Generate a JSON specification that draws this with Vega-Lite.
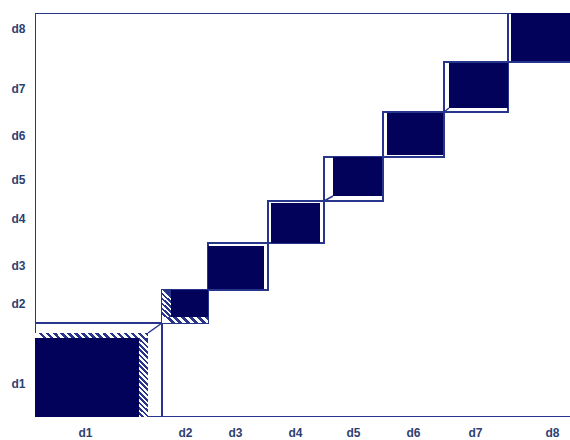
{
  "$schema": "https://vega.github.io/schema/vega-lite/v6.json",
  "autosize": "none",
  "width": 535,
  "height": 404,
  "padding": {"left": 35, "top": 13, "right": 0, "bottom": 23},
  "background": "white",
  "config": {
    "view": {"stroke": null},
    "axis": {"title": null, "domain": false, "ticks": false, "grid": false, "labelFont": "Liberation Sans", "labelFontSize": 12, "labelFontWeight": "bold", "labelColor": "#2e3f72"}
  },
  "datasets": {
    "frame": [{"x": 0, "x2": 540, "y": 0, "y2": 404}],
    "outline": [
      {"cat": "d1", "x": 0, "x2": 127, "y": 0, "y2": 94},
      {"cat": "d2", "x": 127, "x2": 173, "y": 94, "y2": 127},
      {"cat": "d3", "x": 173, "x2": 233, "y": 127, "y2": 174},
      {"cat": "d4", "x": 233, "x2": 289, "y": 174, "y2": 216},
      {"cat": "d5", "x": 289, "x2": 348, "y": 216, "y2": 260},
      {"cat": "d6", "x": 348, "x2": 409, "y": 260, "y2": 305},
      {"cat": "d7", "x": 409, "x2": 473, "y": 305, "y2": 355},
      {"cat": "d8", "x": 473, "x2": 540, "y": 355, "y2": 404}
    ],
    "agree": [
      {"cat": "d1", "x": 0, "x2": 104, "y": 0, "y2": 79},
      {"cat": "d2", "x": 136, "x2": 173, "y": 100, "y2": 127},
      {"cat": "d3", "x": 173, "x2": 229, "y": 128, "y2": 171},
      {"cat": "d4", "x": 236, "x2": 285, "y": 174, "y2": 214},
      {"cat": "d5", "x": 298, "x2": 347, "y": 221, "y2": 260},
      {"cat": "d6", "x": 352, "x2": 408, "y": 262, "y2": 304},
      {"cat": "d7", "x": 414, "x2": 473, "y": 309, "y2": 354},
      {"cat": "d8", "x": 476, "x2": 540, "y": 356, "y2": 404}
    ],
    "partial": [
      {"part": "h1r", "x": 104, "x2": 113, "y": 0, "y2": 84},
      {"part": "h1t", "x": 0, "x2": 113, "y": 79, "y2": 84},
      {"part": "h2l", "x": 127, "x2": 136, "y": 100, "y2": 127},
      {"part": "h2b", "x": 127, "x2": 173, "y": 94, "y2": 100}
    ],
    "links": [
      {"cat": "d1", "x": 113, "x2": 127, "y": 84, "y2": 94},
      {"cat": "d5", "x": 289, "x2": 298, "y": 216, "y2": 221},
      {"cat": "d7", "x": 409, "x2": 414, "y": 305, "y2": 309}
    ]
  },
  "encoding": {
    "x": {"field": "x", "type": "quantitative", "scale": {"domain": [0, 535], "nice": false, "zero": false},
      "axis": {"values": [50, 150, 200, 260, 318, 378, 440, 517], "labelPadding": 10,
        "labelExpr": "datum.value < 100 ? 'd1' : datum.value < 175 ? 'd2' : datum.value < 230 ? 'd3' : datum.value < 290 ? 'd4' : datum.value < 350 ? 'd5' : datum.value < 410 ? 'd6' : datum.value < 480 ? 'd7' : 'd8'"}},
    "x2": {"field": "x2"},
    "y": {"field": "y", "type": "quantitative", "scale": {"domain": [0, 404], "nice": false, "zero": false},
      "axis": {"values": [389, 329, 282, 238, 199, 152, 114, 34], "labelPadding": 10,
        "labelExpr": "datum.value < 80 ? 'd1' : datum.value < 135 ? 'd2' : datum.value < 180 ? 'd3' : datum.value < 220 ? 'd4' : datum.value < 260 ? 'd5' : datum.value < 310 ? 'd6' : datum.value < 360 ? 'd7' : 'd8'"}},
    "y2": {"field": "y2"}
  },
  "layer": [
    {"data": {"name": "frame"}, "mark": {"type": "rect", "fill": "white", "stroke": "#27358c", "strokeWidth": 2, "clip": true}},
    {"data": {"name": "outline"}, "mark": {"type": "rect", "fill": "white", "stroke": "#27358c", "strokeWidth": 2, "clip": true}},
    {"data": {"name": "agree"}, "mark": {"type": "rect", "fill": "#02025a", "stroke": null, "clip": true}},
    {"data": {"name": "partial"}, "transform": [{"filter": "datum.part == 'h1r'"}],
      "mark": {"type": "rect", "stroke": null, "fill": {"gradient": "linear", "x1": 0.106, "y1": 0, "x2": 0, "y2": 1, "stops": [
        {"offset": 0, "color": "#27358c"}, {"offset": 0.03125, "color": "#27358c"}, {"offset": 0.03125, "color": "#ffffff"}, {"offset": 0.0625, "color": "#ffffff"},
        {"offset": 0.0625, "color": "#27358c"}, {"offset": 0.09375, "color": "#27358c"}, {"offset": 0.09375, "color": "#ffffff"}, {"offset": 0.125, "color": "#ffffff"},
        {"offset": 0.125, "color": "#27358c"}, {"offset": 0.15625, "color": "#27358c"}, {"offset": 0.15625, "color": "#ffffff"}, {"offset": 0.1875, "color": "#ffffff"},
        {"offset": 0.1875, "color": "#27358c"}, {"offset": 0.21875, "color": "#27358c"}, {"offset": 0.21875, "color": "#ffffff"}, {"offset": 0.25, "color": "#ffffff"},
        {"offset": 0.25, "color": "#27358c"}, {"offset": 0.28125, "color": "#27358c"}, {"offset": 0.28125, "color": "#ffffff"}, {"offset": 0.3125, "color": "#ffffff"},
        {"offset": 0.3125, "color": "#27358c"}, {"offset": 0.34375, "color": "#27358c"}, {"offset": 0.34375, "color": "#ffffff"}, {"offset": 0.375, "color": "#ffffff"},
        {"offset": 0.375, "color": "#27358c"}, {"offset": 0.40625, "color": "#27358c"}, {"offset": 0.40625, "color": "#ffffff"}, {"offset": 0.4375, "color": "#ffffff"},
        {"offset": 0.4375, "color": "#27358c"}, {"offset": 0.46875, "color": "#27358c"}, {"offset": 0.46875, "color": "#ffffff"}, {"offset": 0.5, "color": "#ffffff"},
        {"offset": 0.5, "color": "#27358c"}, {"offset": 0.53125, "color": "#27358c"}, {"offset": 0.53125, "color": "#ffffff"}, {"offset": 0.5625, "color": "#ffffff"},
        {"offset": 0.5625, "color": "#27358c"}, {"offset": 0.59375, "color": "#27358c"}, {"offset": 0.59375, "color": "#ffffff"}, {"offset": 0.625, "color": "#ffffff"},
        {"offset": 0.625, "color": "#27358c"}, {"offset": 0.65625, "color": "#27358c"}, {"offset": 0.65625, "color": "#ffffff"}, {"offset": 0.6875, "color": "#ffffff"},
        {"offset": 0.6875, "color": "#27358c"}, {"offset": 0.71875, "color": "#27358c"}, {"offset": 0.71875, "color": "#ffffff"}, {"offset": 0.75, "color": "#ffffff"},
        {"offset": 0.75, "color": "#27358c"}, {"offset": 0.78125, "color": "#27358c"}, {"offset": 0.78125, "color": "#ffffff"}, {"offset": 0.8125, "color": "#ffffff"},
        {"offset": 0.8125, "color": "#27358c"}, {"offset": 0.84375, "color": "#27358c"}, {"offset": 0.84375, "color": "#ffffff"}, {"offset": 0.875, "color": "#ffffff"},
        {"offset": 0.875, "color": "#27358c"}, {"offset": 0.90625, "color": "#27358c"}, {"offset": 0.90625, "color": "#ffffff"}, {"offset": 0.9375, "color": "#ffffff"},
        {"offset": 0.9375, "color": "#27358c"}, {"offset": 0.96875, "color": "#27358c"}, {"offset": 0.96875, "color": "#ffffff"}, {"offset": 1, "color": "#ffffff"}
      ]}}},
    {"data": {"name": "partial"}, "transform": [{"filter": "datum.part == 'h1t'"}],
      "mark": {"type": "rect", "stroke": null, "fill": {"gradient": "linear", "x1": 1, "y1": 0, "x2": 0, "y2": 0.044, "stops": [
        {"offset": 0, "color": "#27358c"}, {"offset": 0.03125, "color": "#27358c"}, {"offset": 0.03125, "color": "#ffffff"}, {"offset": 0.0625, "color": "#ffffff"},
        {"offset": 0.0625, "color": "#27358c"}, {"offset": 0.09375, "color": "#27358c"}, {"offset": 0.09375, "color": "#ffffff"}, {"offset": 0.125, "color": "#ffffff"},
        {"offset": 0.125, "color": "#27358c"}, {"offset": 0.15625, "color": "#27358c"}, {"offset": 0.15625, "color": "#ffffff"}, {"offset": 0.1875, "color": "#ffffff"},
        {"offset": 0.1875, "color": "#27358c"}, {"offset": 0.21875, "color": "#27358c"}, {"offset": 0.21875, "color": "#ffffff"}, {"offset": 0.25, "color": "#ffffff"},
        {"offset": 0.25, "color": "#27358c"}, {"offset": 0.28125, "color": "#27358c"}, {"offset": 0.28125, "color": "#ffffff"}, {"offset": 0.3125, "color": "#ffffff"},
        {"offset": 0.3125, "color": "#27358c"}, {"offset": 0.34375, "color": "#27358c"}, {"offset": 0.34375, "color": "#ffffff"}, {"offset": 0.375, "color": "#ffffff"},
        {"offset": 0.375, "color": "#27358c"}, {"offset": 0.40625, "color": "#27358c"}, {"offset": 0.40625, "color": "#ffffff"}, {"offset": 0.4375, "color": "#ffffff"},
        {"offset": 0.4375, "color": "#27358c"}, {"offset": 0.46875, "color": "#27358c"}, {"offset": 0.46875, "color": "#ffffff"}, {"offset": 0.5, "color": "#ffffff"},
        {"offset": 0.5, "color": "#27358c"}, {"offset": 0.53125, "color": "#27358c"}, {"offset": 0.53125, "color": "#ffffff"}, {"offset": 0.5625, "color": "#ffffff"},
        {"offset": 0.5625, "color": "#27358c"}, {"offset": 0.59375, "color": "#27358c"}, {"offset": 0.59375, "color": "#ffffff"}, {"offset": 0.625, "color": "#ffffff"},
        {"offset": 0.625, "color": "#27358c"}, {"offset": 0.65625, "color": "#27358c"}, {"offset": 0.65625, "color": "#ffffff"}, {"offset": 0.6875, "color": "#ffffff"},
        {"offset": 0.6875, "color": "#27358c"}, {"offset": 0.71875, "color": "#27358c"}, {"offset": 0.71875, "color": "#ffffff"}, {"offset": 0.75, "color": "#ffffff"},
        {"offset": 0.75, "color": "#27358c"}, {"offset": 0.78125, "color": "#27358c"}, {"offset": 0.78125, "color": "#ffffff"}, {"offset": 0.8125, "color": "#ffffff"},
        {"offset": 0.8125, "color": "#27358c"}, {"offset": 0.84375, "color": "#27358c"}, {"offset": 0.84375, "color": "#ffffff"}, {"offset": 0.875, "color": "#ffffff"},
        {"offset": 0.875, "color": "#27358c"}, {"offset": 0.90625, "color": "#27358c"}, {"offset": 0.90625, "color": "#ffffff"}, {"offset": 0.9375, "color": "#ffffff"},
        {"offset": 0.9375, "color": "#27358c"}, {"offset": 0.96875, "color": "#27358c"}, {"offset": 0.96875, "color": "#ffffff"}, {"offset": 1, "color": "#ffffff"}
      ]}}},
    {"data": {"name": "partial"}, "transform": [{"filter": "datum.part == 'h2l'"}],
      "mark": {"type": "rect", "stroke": null, "fill": {"gradient": "linear", "x1": 0.333, "y1": 0, "x2": 0, "y2": 1, "stops": [
        {"offset": 0, "color": "#27358c"}, {"offset": 0.0833, "color": "#27358c"}, {"offset": 0.0833, "color": "#ffffff"}, {"offset": 0.1667, "color": "#ffffff"},
        {"offset": 0.1667, "color": "#27358c"}, {"offset": 0.25, "color": "#27358c"}, {"offset": 0.25, "color": "#ffffff"}, {"offset": 0.3333, "color": "#ffffff"},
        {"offset": 0.3333, "color": "#27358c"}, {"offset": 0.4167, "color": "#27358c"}, {"offset": 0.4167, "color": "#ffffff"}, {"offset": 0.5, "color": "#ffffff"},
        {"offset": 0.5, "color": "#27358c"}, {"offset": 0.5833, "color": "#27358c"}, {"offset": 0.5833, "color": "#ffffff"}, {"offset": 0.6667, "color": "#ffffff"},
        {"offset": 0.6667, "color": "#27358c"}, {"offset": 0.75, "color": "#27358c"}, {"offset": 0.75, "color": "#ffffff"}, {"offset": 0.8333, "color": "#ffffff"},
        {"offset": 0.8333, "color": "#27358c"}, {"offset": 0.9167, "color": "#27358c"}, {"offset": 0.9167, "color": "#ffffff"}, {"offset": 1, "color": "#ffffff"}
      ]}}},
    {"data": {"name": "partial"}, "transform": [{"filter": "datum.part == 'h2b'"}],
      "mark": {"type": "rect", "stroke": null, "fill": {"gradient": "linear", "x1": 1, "y1": 0, "x2": 0, "y2": 0.13, "stops": [
        {"offset": 0, "color": "#27358c"}, {"offset": 0.0833, "color": "#27358c"}, {"offset": 0.0833, "color": "#ffffff"}, {"offset": 0.1667, "color": "#ffffff"},
        {"offset": 0.1667, "color": "#27358c"}, {"offset": 0.25, "color": "#27358c"}, {"offset": 0.25, "color": "#ffffff"}, {"offset": 0.3333, "color": "#ffffff"},
        {"offset": 0.3333, "color": "#27358c"}, {"offset": 0.4167, "color": "#27358c"}, {"offset": 0.4167, "color": "#ffffff"}, {"offset": 0.5, "color": "#ffffff"},
        {"offset": 0.5, "color": "#27358c"}, {"offset": 0.5833, "color": "#27358c"}, {"offset": 0.5833, "color": "#ffffff"}, {"offset": 0.6667, "color": "#ffffff"},
        {"offset": 0.6667, "color": "#27358c"}, {"offset": 0.75, "color": "#27358c"}, {"offset": 0.75, "color": "#ffffff"}, {"offset": 0.8333, "color": "#ffffff"},
        {"offset": 0.8333, "color": "#27358c"}, {"offset": 0.9167, "color": "#27358c"}, {"offset": 0.9167, "color": "#ffffff"}, {"offset": 1, "color": "#ffffff"}
      ]}}},
    {"data": {"name": "links"}, "mark": {"type": "rule", "color": "#27358c", "strokeWidth": 1.5}}
  ]
}
